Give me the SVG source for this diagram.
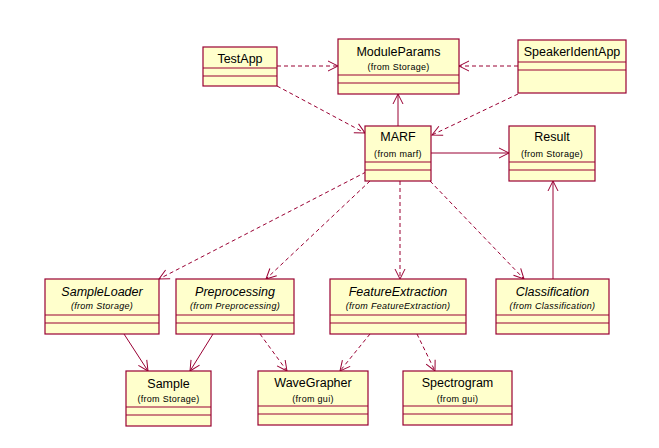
<svg xmlns="http://www.w3.org/2000/svg" width="659" height="448" viewBox="0 0 659 448">
<style>
.box{fill:#FFFFCC;stroke:#990033;stroke-width:1.2}
.ln{stroke:#990033;stroke-width:1.2;fill:none}
.t{font-family:"Liberation Sans",Arial,sans-serif;font-size:12.5px;fill:#000;text-anchor:middle}
.s{font-family:"Liberation Sans",Arial,sans-serif;font-size:9px;letter-spacing:0.3px;fill:#000;text-anchor:middle}
.i{font-style:italic}
.c{stroke:#990033;stroke-width:1;fill:none;marker-end:url(#a)}
.d{stroke-dasharray:4,3}
</style>
<defs>
<marker id="a" viewBox="0 0 12 12" refX="11" refY="6" markerWidth="12" markerHeight="12" markerUnits="userSpaceOnUse" orient="auto">
<path d="M1,1 L11,6 L1,11" fill="none" stroke="#990033" stroke-width="1"/>
</marker>
</defs>
<rect width="659" height="448" fill="#fff"/>
<g id="connectors">
<line class="c d" x1="277" y1="66" x2="338" y2="66"/>
<line class="c d" x1="518" y1="66" x2="459" y2="66"/>
<line class="c d" x1="277" y1="86" x2="365" y2="133"/>
<line class="c d" x1="518" y1="94" x2="432" y2="135"/>
<line class="c" x1="398" y1="126" x2="398" y2="94"/>
<line class="c" x1="431" y1="153" x2="509" y2="153"/>
<line class="c" x1="553" y1="279" x2="553" y2="181"/>
<line class="c d" x1="366" y1="172" x2="159" y2="279"/>
<line class="c d" x1="370" y1="181" x2="266" y2="279"/>
<line class="c d" x1="400" y1="181" x2="400" y2="279"/>
<line class="c d" x1="430" y1="181" x2="524" y2="279"/>
<line class="c" x1="124" y1="334" x2="148" y2="371"/>
<line class="c" x1="213" y1="334" x2="190" y2="371"/>
<line class="c d" x1="260" y1="334" x2="287" y2="371"/>
<line class="c d" x1="370" y1="334" x2="340" y2="371"/>
<line class="c d" x1="417" y1="334" x2="435" y2="371"/>
</g>
<g id="TestApp">
<rect class="box" x="203" y="47" width="74" height="39"/>
<line class="ln" x1="203" y1="68" x2="277" y2="68"/>
<line class="ln" x1="203" y1="76" x2="277" y2="76"/>
<text class="t" x="240" y="63">TestApp</text>
</g>
<g id="ModuleParams">
<rect class="box" x="338" y="39" width="121" height="55"/>
<line class="ln" x1="338" y1="75" x2="459" y2="75"/>
<line class="ln" x1="338" y1="83" x2="459" y2="83"/>
<text class="t" x="398.5" y="56">ModuleParams</text>
<text class="s" x="398.5" y="70">(from Storage)</text>
</g>
<g id="SpeakerIdentApp">
<rect class="box" x="518" y="40" width="108" height="53"/>
<line class="ln" x1="518" y1="62" x2="626" y2="62"/>
<line class="ln" x1="518" y1="70" x2="626" y2="70"/>
<text class="t" x="572" y="56">SpeakerIdentApp</text>
</g>
<g id="MARF">
<rect class="box" x="365" y="126" width="66" height="55"/>
<line class="ln" x1="365" y1="162" x2="431" y2="162"/>
<line class="ln" x1="365" y1="170" x2="431" y2="170"/>
<text class="t" x="398" y="141">MARF</text>
<text class="s" x="398" y="157">(from marf)</text>
</g>
<g id="Result">
<rect class="box" x="509" y="126" width="86" height="55"/>
<line class="ln" x1="509" y1="162" x2="595" y2="162"/>
<line class="ln" x1="509" y1="170" x2="595" y2="170"/>
<text class="t" x="552" y="141">Result</text>
<text class="s" x="552" y="157">(from Storage)</text>
</g>
<g id="SampleLoader">
<rect class="box" x="45" y="279" width="114" height="55"/>
<line class="ln" x1="45" y1="315" x2="159" y2="315"/>
<line class="ln" x1="45" y1="323" x2="159" y2="323"/>
<text class="t i" x="102" y="296">SampleLoader</text>
<text class="s i" x="102" y="309">(from Storage)</text>
</g>
<g id="Preprocessing">
<rect class="box" x="176" y="279" width="118" height="55"/>
<line class="ln" x1="176" y1="315" x2="294" y2="315"/>
<line class="ln" x1="176" y1="323" x2="294" y2="323"/>
<text class="t i" x="235" y="296">Preprocessing</text>
<text class="s i" x="235" y="309">(from Preprocessing)</text>
</g>
<g id="FeatureExtraction">
<rect class="box" x="330" y="279" width="136" height="55"/>
<line class="ln" x1="330" y1="315" x2="466" y2="315"/>
<line class="ln" x1="330" y1="323" x2="466" y2="323"/>
<text class="t i" x="398" y="296">FeatureExtraction</text>
<text class="s i" x="398" y="309">(from FeatureExtraction)</text>
</g>
<g id="Classification">
<rect class="box" x="496" y="279" width="113" height="55"/>
<line class="ln" x1="496" y1="315" x2="609" y2="315"/>
<line class="ln" x1="496" y1="323" x2="609" y2="323"/>
<text class="t i" x="552.5" y="296">Classification</text>
<text class="s i" x="552.5" y="309">(from Classification)</text>
</g>
<g id="Sample">
<rect class="box" x="126" y="371" width="85" height="55"/>
<line class="ln" x1="126" y1="407" x2="211" y2="407"/>
<line class="ln" x1="126" y1="415" x2="211" y2="415"/>
<text class="t" x="168.5" y="388">Sample</text>
<text class="s" x="168.5" y="402">(from Storage)</text>
</g>
<g id="WaveGrapher">
<rect class="box" x="258" y="371" width="110" height="54"/>
<line class="ln" x1="258" y1="406" x2="368" y2="406"/>
<line class="ln" x1="258" y1="414" x2="368" y2="414"/>
<text class="t" x="313" y="387">WaveGrapher</text>
<text class="s" x="313" y="402">(from gui)</text>
</g>
<g id="Spectrogram">
<rect class="box" x="403" y="371" width="109" height="54"/>
<line class="ln" x1="403" y1="406" x2="512" y2="406"/>
<line class="ln" x1="403" y1="414" x2="512" y2="414"/>
<text class="t" x="457.5" y="387">Spectrogram</text>
<text class="s" x="457.5" y="402">(from gui)</text>
</g>
</svg>
